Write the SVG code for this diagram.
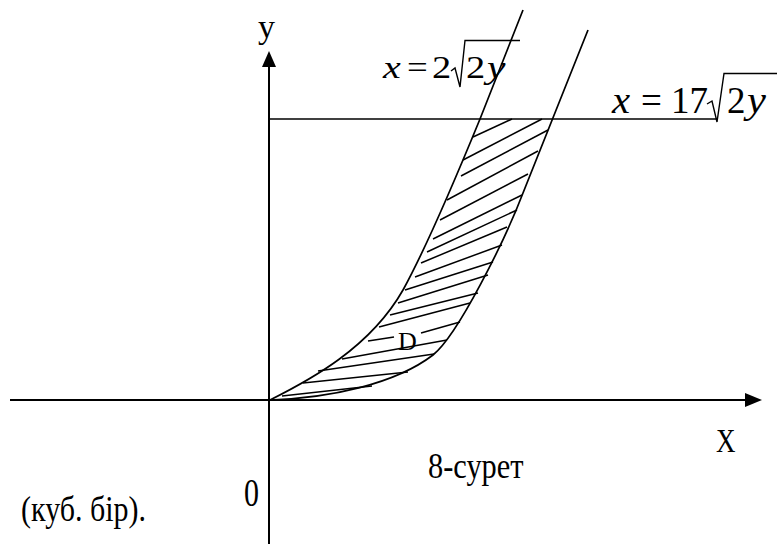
<svg xmlns="http://www.w3.org/2000/svg" width="777" height="544" viewBox="0 0 777 544">
<style>
.ax{stroke:#000;stroke-width:2;fill:none}
.cv{stroke:#000;stroke-width:1.7;fill:none}
.ht{stroke:#000;stroke-width:1.5;fill:none}
.rd{stroke:#000;stroke-width:1.4;fill:none;stroke-linejoin:miter}
text{font-family:'Liberation Serif','Times New Roman',serif;fill:#000}
.i{font-style:italic}
</style>
<g id="axes">
<line class="ax" x1="10" y1="400" x2="746" y2="400"/>
<polygon points="762,400 745,393 745,407" fill="#000"/>
<line class="ax" x1="269" y1="544" x2="269" y2="66"/>
<polygon points="269,51 262,67 276,67" fill="#000"/>
<line x1="269" y1="119" x2="717" y2="119" stroke="#000" stroke-width="1.5"/>
</g>
<g id="curves">
<path class="cv" d="M270,400 C310,380 370,348 403,290 C425,250 455,180 480,119 L523,10"/>
<path class="cv" d="M270,400 C330,398 395,384 433,355 C458,335 505,240 523,193 L588,30"/>
</g>
<g id="hatch">
<line class="ht" x1="473" y1="137" x2="512" y2="119"/>
<line class="ht" x1="463" y1="160" x2="542" y2="119"/>
<line class="ht" x1="461" y1="176" x2="548" y2="130"/>
<line class="ht" x1="447" y1="200" x2="538" y2="151"/>
<line class="ht" x1="440" y1="220" x2="528" y2="174"/>
<line class="ht" x1="433" y1="239" x2="522" y2="195"/>
<line class="ht" x1="427" y1="252" x2="517" y2="210"/>
<line class="ht" x1="421" y1="263" x2="507" y2="227"/>
<line class="ht" x1="415" y1="277" x2="502" y2="245"/>
<line class="ht" x1="405" y1="290" x2="493" y2="262"/>
<line class="ht" x1="398" y1="303" x2="488" y2="275"/>
<line class="ht" x1="390" y1="315" x2="478" y2="293"/>
<line class="ht" x1="379" y1="327" x2="470" y2="303"/>
<line class="ht" x1="368" y1="341" x2="394" y2="337"/>
<line class="ht" x1="421" y1="333" x2="460" y2="322"/>
<line class="ht" x1="342" y1="359" x2="447" y2="340"/>
<line class="ht" x1="318" y1="371" x2="434" y2="354"/>
<line class="ht" x1="303" y1="383" x2="408" y2="372"/>
<line class="ht" x1="282" y1="396" x2="372" y2="386"/>
</g>
<g id="labels">
<text x="258" y="38" font-size="34">y</text>
<text transform="translate(716,452) scale(0.9,1.1)" font-size="30">X</text>
<text transform="translate(428,478) scale(0.95,1.15)" font-size="32">8-сурет</text>
<text transform="translate(244,506) scale(1,1.3)" font-size="30">0</text>
<text transform="translate(21,521) scale(1,1.2)" font-size="30">(куб. бір).</text>
<text x="398" y="350" font-size="26">D</text>
</g>
<g id="formula1">
<text class="i" transform="translate(383,78) scale(1.25,1)" font-size="32">x</text>
<text transform="translate(407,78) scale(1.15,1)" font-size="32">=</text>
<text transform="translate(432,78) scale(1.2,1)" font-size="32">2</text>
<path class="rd" d="M451,71 L455,68 L460,87 L465,40.5 L520,40.5"/>
<text transform="translate(466,78) scale(1.2,1)" font-size="32">2</text>
<text class="i" transform="translate(487,78) scale(1.3,1)" font-size="32">y</text>
</g>
<g id="formula2">
<text class="i" transform="translate(612,113) scale(1.1,1)" font-size="37">x</text>
<text x="641" y="113" font-size="37">=</text>
<text x="671" y="113" font-size="37">17</text>
<path class="rd" d="M707,104 L712,101 L717,122 L724,73.5 L777,73.5"/>
<text x="727" y="113" font-size="37">2</text>
<text class="i" transform="translate(747,113) scale(1.15,1)" font-size="37">y</text>
</g>
</svg>
